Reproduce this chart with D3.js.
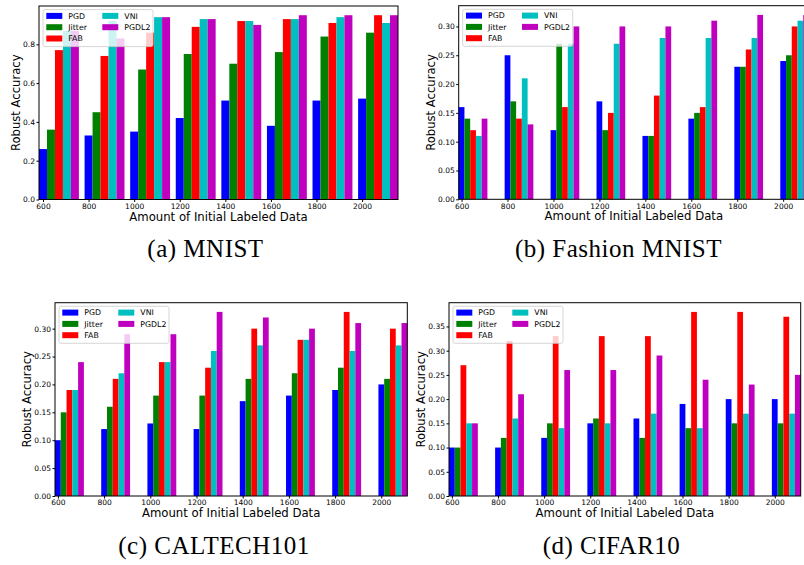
<!DOCTYPE html>
<html>
<head>
<meta charset="utf-8">
<script src="https://cdn.jsdelivr.net/npm/d3@7"></script>
<style>
  body { margin: 0; background: #fff; }
  svg text { font-family: "DejaVu Sans", sans-serif; fill: #000; }
</style>
</head>
<body>
<svg id="fig" width="804" height="565"></svg>
<script>
// amount of initial labeled data (x groups)
const sizes = [600, 800, 1000, 1200, 1400, 1600, 1800, 2000];
const methods = ['PGD', 'Jitter', 'FAB', 'VNI', 'PGDL2'];
const colors = ['#0000ff', '#008000', '#ff0000', '#00bfbf', '#bf00bf'];

// robust accuracy, one row per method (same order as methods)
const mnist = [
  [0.26, 0.33, 0.35, 0.42, 0.51, 0.38, 0.51, 0.52],
  [0.36, 0.45, 0.67, 0.75, 0.70, 0.76, 0.84, 0.86],
  [0.77, 0.74, 0.86, 0.89, 0.92, 0.93, 0.91, 0.95],
  [0.87, 0.92, 0.94, 0.93, 0.92, 0.93, 0.94, 0.91],
  [0.87, 0.83, 0.94, 0.93, 0.90, 0.95, 0.95, 0.95]
];
const fashion = [
  [0.16, 0.25, 0.12, 0.17, 0.11, 0.14, 0.23, 0.24],
  [0.14, 0.17, 0.27, 0.12, 0.11, 0.15, 0.23, 0.25],
  [0.12, 0.14, 0.16, 0.15, 0.18, 0.16, 0.26, 0.30],
  [0.11, 0.21, 0.27, 0.27, 0.28, 0.28, 0.28, 0.31],
  [0.14, 0.13, 0.30, 0.30, 0.30, 0.31, 0.32, 0.32]
];
const caltech = [
  [0.10, 0.12, 0.13, 0.12, 0.17, 0.18, 0.19, 0.20],
  [0.15, 0.16, 0.18, 0.18, 0.21, 0.22, 0.23, 0.21],
  [0.19, 0.21, 0.24, 0.23, 0.30, 0.28, 0.33, 0.30],
  [0.19, 0.22, 0.24, 0.26, 0.27, 0.28, 0.26, 0.27],
  [0.24, 0.29, 0.29, 0.33, 0.32, 0.30, 0.31, 0.31]
];
const cifar = [
  [0.10, 0.10, 0.12, 0.15, 0.16, 0.19, 0.20, 0.20],
  [0.10, 0.12, 0.15, 0.16, 0.12, 0.14, 0.15, 0.15],
  [0.27, 0.32, 0.33, 0.33, 0.33, 0.38, 0.38, 0.37],
  [0.15, 0.16, 0.14, 0.15, 0.17, 0.14, 0.17, 0.17],
  [0.15, 0.21, 0.26, 0.26, 0.29, 0.24, 0.23, 0.25]
];

const yTicksTenths = [0, 0.2, 0.4, 0.6, 0.8];
const yTicks030 = [0, 0.05, 0.10, 0.15, 0.20, 0.25, 0.30];
const yTicks035 = [0, 0.05, 0.10, 0.15, 0.20, 0.25, 0.30, 0.35];

const captions = ['(a) MNIST', '(b) Fashion MNIST', '(c) CALTECH101', '(d) CIFAR10'];

const panels = [
  { data: mnist,   w: 35, box: [39, 6, 398, 199.5],      ticks: yTicksTenths, fmt: '.1f', cap: [205.5, 257] },
  { data: fashion, w: 25, box: [458.7, 5.7, 809, 199.3], ticks: yTicks030,    fmt: '.2f', cap: [618.5, 257] },
  { data: caltech, w: 25, box: [55, 302.7, 407.3, 496],  ticks: yTicks030,    fmt: '.2f', cap: [214, 554] },
  { data: cifar,   w: 25, box: [449, 302.7, 800.7, 496], ticks: yTicks035,    fmt: '.2f', cap: [611.5, 554] }
];

const svg = d3.select('#fig');

panels.forEach((p, pi) => {
  const [x0, y0, x1, y1] = p.box;
  const ymax = d3.max(p.data.flat()) * 1.05;

  const x = d3.scaleLinear()
    .domain([sizes[0] - p.w / 2, sizes[sizes.length - 1] + 4.5 * p.w])
    .range([x0, x1]);
  const y = d3.scaleLinear().domain([0, ymax]).range([y1, y0]);

  const g = svg.append('g');

  // bars
  p.data.forEach((row, mi) => {
    g.selectAll(null)
      .data(row)
      .enter()
      .append('rect')
      .attr('x', (d, i) => x(sizes[i] + mi * p.w - p.w / 2))
      .attr('width', x(p.w) - x(0))
      .attr('y', d => y(d))
      .attr('height', d => y(0) - y(d))
      .attr('fill', colors[mi]);
  });

  // frame
  g.append('rect')
    .attr('x', x0).attr('y', y0)
    .attr('width', x1 - x0).attr('height', y1 - y0)
    .attr('fill', 'none')
    .attr('stroke', '#000')
    .attr('stroke-width', 1);

  // axes
  const xa = g.append('g')
    .attr('transform', `translate(0,${y1})`)
    .call(d3.axisBottom(x).tickValues(sizes).tickFormat(d3.format('d')).tickSize(2.5).tickPadding(1.5));
  const ya = g.append('g')
    .attr('transform', `translate(${x0},0)`)
    .call(d3.axisLeft(y).tickValues(p.ticks).tickFormat(d3.format(p.fmt)).tickSize(2.5).tickPadding(1.5));
  [xa, ya].forEach(a => {
    a.select('.domain').remove();
    a.selectAll('text').style('font-size', '7.5px').attr('fill', '#000');
    a.selectAll('line').attr('stroke', '#000');
  });

  g.append('text')
    .attr('x', (x0 + x1) / 2)
    .attr('y', y1 + 21)
    .attr('text-anchor', 'middle')
    .style('font-size', '11.7px')
    .text('Amount of Initial Labeled Data');

  // bbox is in the axis group's own coordinates, so add its offset
  const tickLeft = x0 + ya.node().getBBox().x;
  g.append('text')
    .attr('transform', `translate(${tickLeft - 7.5},${(y0 + y1) / 2}) rotate(-90)`)
    .attr('text-anchor', 'middle')
    .attr('dy', '0.35em')
    .style('font-size', '11.6px')
    .text('Robust Accuracy');

  // legend
  const lg = g.append('g').attr('transform', `translate(${x0 + 4},${y0 + 3.6})`);
  lg.append('rect')
    .attr('width', 110).attr('height', 37).attr('rx', 2)
    .attr('fill', '#fff').attr('fill-opacity', 0.8)
    .attr('stroke', '#cccccc').attr('stroke-width', 0.8);
  methods.forEach((m, i) => {
    const col = i < 3 ? 0 : 1;
    const row = i < 3 ? i : i - 3;
    const cy = 6.3 + row * 11.3;
    lg.append('rect')
      .attr('x', 3.3 + col * 56).attr('y', cy - 3)
      .attr('width', 16).attr('height', 6)
      .attr('fill', colors[i]);
    lg.append('text')
      .attr('x', 25.3 + col * 56).attr('y', cy)
      .attr('dy', '0.35em')
      .style('font-size', '7.8px')
      .text(m);
  });

  // caption
  svg.append('text')
    .attr('x', p.cap[0]).attr('y', p.cap[1])
    .attr('text-anchor', 'middle')
    .style('font-family', '"Liberation Serif", serif')
    .style('font-size', '25px')
    .style('letter-spacing', '0.5px')
    .text(captions[pi]);
});
</script>
</body>
</html>
